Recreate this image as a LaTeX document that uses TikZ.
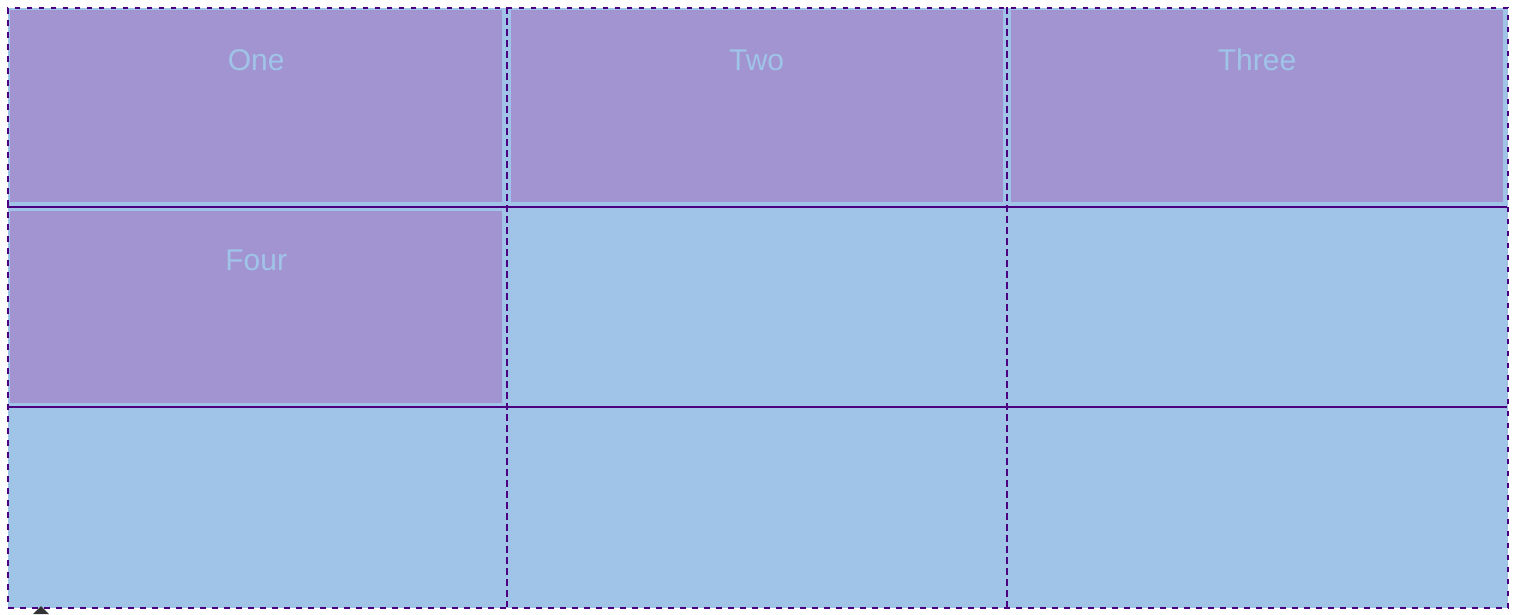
\documentclass[tikz,border=0pt]{standalone}
\usepackage{fontspec}
\setmainfont{Liberation Sans}
\usetikzlibrary{positioning}

\definecolor{gridblue}{RGB}{160,196,232}
\definecolor{cellpurple}{RGB}{161,148,209}
\definecolor{gridline}{RGB}{75,0,130}

\begin{document}
\begin{tikzpicture}[x=1pt, y=-1pt, cell/.style={rectangle, fill=cellpurple, minimum width = 492pt, minimum height = 192pt, inner sep = 0pt, label={[celltext]north:#1}}, celltext/.style={text=gridblue, font=\fontsize{30}{36}\selectfont, inner sep = 0pt, text depth = 0pt, label distance = -60.5pt}, node distance = 8pt, rowline/.style={draw=gridline, line width = 2pt}, colline/.style={draw=gridline, line width = 1.7pt, dash pattern = on 7pt off 4pt}]
      \useasboundingbox (0,0) rectangle (1516,614);

      \node [rectangle, fill=gridblue, draw=gridline, line width = 2pt, dash pattern = on 5.5pt off 6.5pt, minimum width = 1500pt, minimum height = 600pt, anchor=north west] (grid) at (7,7) {};

      \node [cell={One}, anchor=north west] (one) at (10,10) {};

      \node [cell={Two}, right = of one] (two) {};

      \node [cell={Three}, right = of two] (three) {};

      \node [cell={Four}, below = of one] (four) {};

      \path[rowline] (7,207) -- (1507,207);

      \path[rowline] (7,407) -- (1507,407);

      \path[colline] (507,7) -- (507,607);

      \path[colline] (1007,7) -- (1007,607);

      \fill[black!80] (41,606) -- (49,614) -- (33,614) -- cycle;
    \end{tikzpicture}
\end{document}
